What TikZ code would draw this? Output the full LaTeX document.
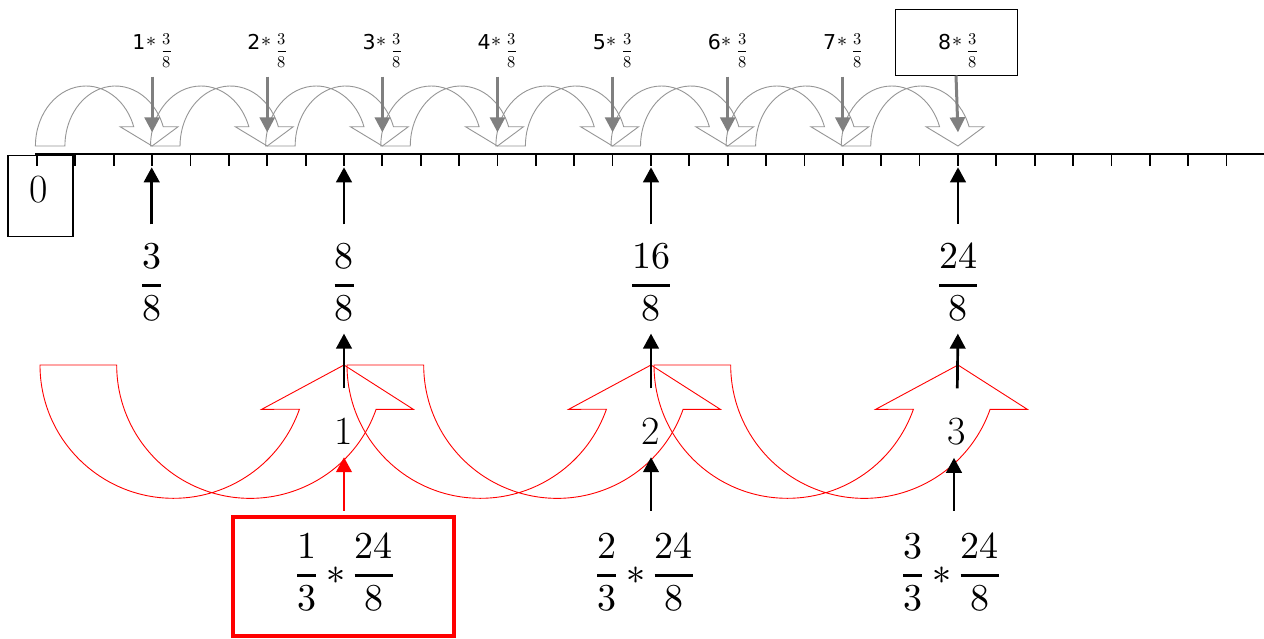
\documentclass[tikz,border=0pt]{standalone}
\usepackage{amsmath}
\usepackage{fontspec}
\usepackage{unicode-math}
\setmathfont{Latin Modern Math}
\newfontfamily\labfont{DejaVu Sans}
\usetikzlibrary{arrows.meta,calc}
\definecolor{gline}{RGB}{150,150,150}
\definecolor{garr}{RGB}{128,128,128}
\newcommand\bigsz{\fontsize{38}{44}\selectfont}
\newcommand\numsz{\fontsize{40}{46}\selectfont}
\newcommand\fr[2]{\genfrac{}{}{3pt}{0}{#1}{#2}}
\newcommand\toplab[1]{{\labfont\fontsize{20.5}{24}\selectfont #1}\hspace{1pt}\raisebox{2.6pt}{\fontsize{20}{24}\selectfont$\ast$}\hspace{5pt}\raisebox{-6.4pt}{\fontsize{16.5}{19}\selectfont$\genfrac{}{}{1.5pt}{0}{3}{8}$}}
\begin{document}
\begin{tikzpicture}[x=1pt,y=1pt,
  garcs/.style={draw=gline, line width=0.9pt, line join=miter},
  rarcs/.style={draw=red, line width=0.9pt, line join=miter},
  garrow/.style={draw=garr, line width=3pt, -{Triangle[width=15pt,length=15pt]}},
  blk/.style={draw=black, line width=2.7pt, -{Triangle[width=15.5pt,length=15pt]}},
  redarrow/.style={draw=red, line width=2.7pt, -{Triangle[width=15.5pt,length=15pt]}},
  fracn/.style={anchor=base, inner sep=0pt, font=\bigsz},
  numn/.style={anchor=base, inner sep=0pt, font=\numsz},
  labn/.style={anchor=base, inner sep=0pt}]
\fill[white] (0,0) rectangle (1264,-638);
\useasboundingbox (0,0) rectangle (1264,-638);

% number line
\draw[line width=2pt] (35,-154) -- (1264,-154);
\foreach \i in {0,...,31}{
  \draw[line width=1.8pt] ({37+38.372*\i},-154) -- ++(0,-12);
}
\node[draw, line width=1.5pt, minimum width=65pt, minimum height=81pt, inner sep=0pt] (zerobox) at (40.5,-196.2) {};
\node[numn] (zero) at (38.5,-202.7) {0};

% gray curved arrows and top labels
\foreach \k in {1,...,8}{
  \pgfmathsetmacro\T{37+115.12*\k}
  \draw[garcs] (\T-116.7,-146) arc[start angle=180,end angle=18.77,x radius=50.5pt,y radius=60pt]
     -- (\T-32,-126.7) -- (\T,-146) -- (\T+26,-126.7) -- (\T+11.1,-126.7)
     arc[start angle=18.77,end angle=180,x radius=50.5pt,y radius=60pt] -- cycle;
  \coordinate (g\k) at (\T,-132.3);
  \node[labn] (lab\k) at (\T,-49.3) {\toplab{\k}};
}
\node[draw, line width=1pt, minimum width=122pt, minimum height=66pt, inner sep=0pt] (box8) at (956,-42) {};
\foreach \k in {1,...,7}{
  \draw[garrow, shorten <=9pt] (lab\k.south) -- (g\k);
}
\draw[garrow] (box8.south) -- (g8);

% black arrows from fractions to the line
\coordinate (t3) at (151.7,-154);
\coordinate (t8) at (344,-154);
\coordinate (t16) at (651,-154);
\coordinate (t24) at (958,-154);
\node[fracn] (f3) at (151.7,-294.5) {$\fr{3}{8}$};
\node[fracn] (f8) at (344,-294.5) {$\fr{8}{8}$};
\node[fracn] (f16) at (651,-294.5) {$\fr{16}{8}$};
\node[fracn] (f24) at (958,-294.5) {$\fr{24}{8}$};
\foreach \n in {3,8,16,24}{
  \draw[blk, shorten <=19pt, shorten >=13.3pt] (f\n.north) -- (t\n);
}

% red curved arrows
\foreach \T in {344,651,958}{
  \draw[rarcs] (\T-304,-365) arc[start angle=180,end angle=340.6,x radius=133.5pt,y radius=133.3pt]
     -- (\T-82.3,-409.3) -- (\T,-365) -- (\T+69.3,-409.3) -- (\T+32.1,-409.3)
     arc[start angle=340.6,end angle=180,x radius=133.5pt,y radius=133.3pt] -- cycle;
}

% middle numbers
\node[numn] (n1) at (344,-444) {1};
\node[numn] (n2) at (651,-444) {2};
\node[numn] (n3) at (957,-444) {3};
\draw[blk, shorten <=29pt, shorten >=12pt] (n1.north) -- (f8.south);
\draw[blk, shorten <=29pt, shorten >=12pt] (n2.north) -- (f16.south);
\draw[blk, shorten <=29pt, shorten >=12pt] (n3.north) -- (f24.south);

% bottom expressions
\node[fracn] (e1) at (345,-584.5) {$\fr{1}{3}\ast\fr{24}{8}$};
\node[fracn] (e2) at (645,-584.5) {$\fr{2}{3}\ast\fr{24}{8}$};
\node[fracn] (e3) at (951,-584.5) {$\fr{3}{3}\ast\fr{24}{8}$};
\node[draw=red, line width=4pt, minimum width=221pt, minimum height=119pt, inner sep=0pt] (rbox) at (343.7,-576.5) {};
\draw[redarrow, shorten <=22pt, shorten >=13pt] (n1.south |- e1.north) -- (n1.south);
\draw[blk, shorten <=22pt, shorten >=13pt] (n2.south |- e2.north) -- (n2.south);
\draw[blk, shorten <=22pt, shorten >=13pt] ($(n3.south |- e3.north)+(-3,0)$) -- ($(n3.south)+(-3,0)$);
\end{tikzpicture}
\end{document}
